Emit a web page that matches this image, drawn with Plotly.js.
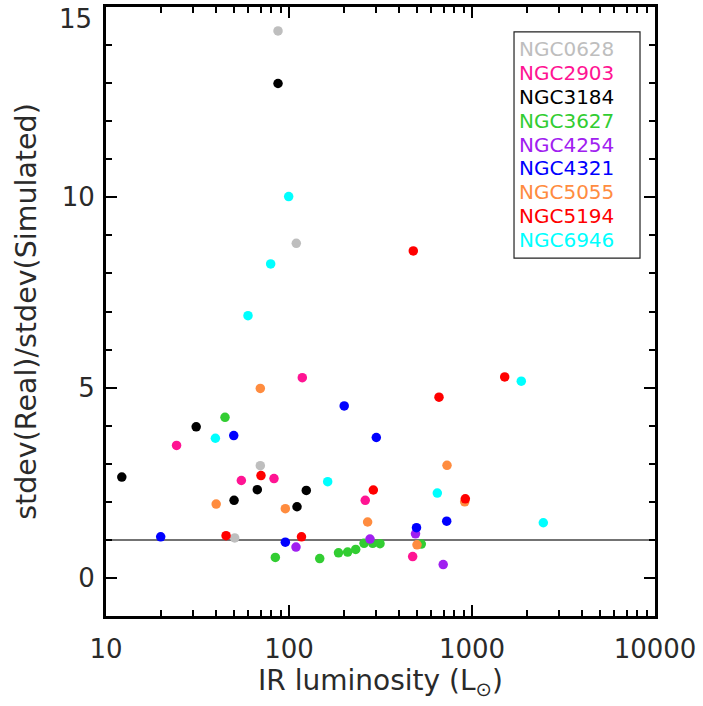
<!DOCTYPE html>
<html>
<head>
<meta charset="utf-8">
<script src="https://cdn.plot.ly/plotly-3.0.1.min.js"></script>
<style>html,body{margin:0;padding:0;background:#fff;}#chart{width:703px;height:706px;}</style>
</head>
<body>
<div id="chart"></div>
<script>
// Galaxy names and marker colours
const galaxies = ["NGC0628","NGC2903","NGC3184","NGC3627","NGC4254","NGC4321","NGC5055","NGC5194","NGC6946"];
const colors = ["#bebebe","#ff1493","#000000","#32cd32","#a020f0","#0000ff","#ff8c3f","#ff0000","#00ffff"];

// IR luminosity (L_sun) and stdev ratio per galaxy
const ngc0628_x = [50.5, 69.7, 87.1, 109.6];
const ngc0628_y = [1.05, 2.95, 14.37, 8.79];
const ngc2903_x = [24.3, 54.9, 82.8, 118.2, 261, 474];
const ngc2903_y = [3.48, 2.56, 2.61, 5.26, 2.04, 0.56];
const ngc3184_x = [12.2, 31.1, 50.1, 67.1, 87.1, 110.6, 124.3];
const ngc3184_y = [2.65, 3.97, 2.04, 2.32, 12.99, 1.87, 2.30];
const ngc3627_x = [44.7, 84.2, 147.2, 186.4, 209.1, 231.5, 257, 286.7, 314.3, 528.4];
const ngc3627_y = [4.22, 0.54, 0.51, 0.66, 0.68, 0.75, 0.91, 0.91, 0.90, 0.89];
const ngc4254_x = [109.2, 277.1, 491.2, 696];
const ngc4254_y = [0.81, 1.02, 1.16, 0.35];
const ngc4321_x = [19.9, 49.9, 95.5, 200.3, 300, 497.4, 727.4];
const ngc4321_y = [1.08, 3.74, 0.94, 4.52, 3.69, 1.32, 1.49];
const ngc5055_x = [40.0, 69.7, 95.5, 268.9, 500.6, 730.2, 912.5];
const ngc5055_y = [1.94, 4.98, 1.82, 1.47, 0.87, 2.96, 2.00];
const ngc5194_x = [45.3, 70.3, 117.0, 288.9, 477.8, 660.2, 919.4, 1509];
const ngc5194_y = [1.11, 2.69, 1.08, 2.31, 8.59, 4.75, 2.08, 5.28];
const ngc6946_x = [39.6, 59.7, 79.4, 99.6, 162.7, 646.3, 1859, 2453];
const ngc6946_y = [3.67, 6.89, 8.25, 10.02, 2.53, 2.23, 5.17, 1.45];

const xs = [ngc0628_x, ngc2903_x, ngc3184_x, ngc3627_x, ngc4254_x, ngc4321_x, ngc5055_x, ngc5194_x, ngc6946_x];
const ys = [ngc0628_y, ngc2903_y, ngc3184_y, ngc3627_y, ngc4254_y, ngc4321_y, ngc5055_y, ngc5194_y, ngc6946_y];

const xTickVals = [10, 100, 1000, 10000];
const xTickText = ["10", "100", "1000", "10000"];
const yTickVals = [0, 5, 10, 15];
const yTickText = ["0", "5", "10", ""];   // top label "15" is drawn below, kept inside the figure
const yTopLabel = "15";
const refLine = 1;

const FONT = "DejaVu Sans, sans-serif";
const TXT = "#2a2a2a";

const traces = galaxies.map((g, i) => ({
  type: "scatter", mode: "markers", name: g,
  x: xs[i], y: ys[i],
  marker: {color: colors[i], size: 9.5, line: {width: 0}},
  showlegend: false, cliponaxis: false
}));

// Text-only legend inside a framed box (paper coordinates of the plot area)
const legX = 0.7486, legTop = 0.931, legStep = 0.0392;
const legendAnns = galaxies.map((g, i) => ({
  xref: "paper", yref: "paper", x: legX, y: legTop - i * legStep,
  xanchor: "left", yanchor: "middle", text: g, showarrow: false,
  font: {family: FONT, size: 20, color: colors[i]}
}));

const topLabelAnn = {
  xref: "paper", yref: "paper", x: -0.0215, y: 0.981,
  xanchor: "right", yanchor: "middle", text: yTopLabel, showarrow: false,
  font: {family: FONT, size: 26, color: TXT}
};

const layout = {
  width: 703, height: 706,
  margin: {l: 106, r: 48, t: 7, b: 90},
  paper_bgcolor: "#fff", plot_bgcolor: "#fff",
  font: {family: FONT, color: TXT, size: 26},
  showlegend: false,
  xaxis: {
    type: "log", range: [1, 4],
    tickvals: xTickVals, ticktext: xTickText,
    ticks: "inside", ticklen: 11, tickwidth: 2, tickcolor: "#000",
    minor: {ticks: "inside", ticklen: 6, tickwidth: 2, tickcolor: "#000", dtick: "D1", showgrid: false},
    showline: true, linewidth: 3, linecolor: "#000", mirror: "allticks",
    showgrid: false, zeroline: false,
    tickfont: {family: FONT, size: 26, color: TXT},
    ticklabelstandoff: 8,
    title: {text: "IR luminosity (L<sub>\u2299</sub>)", font: {family: FONT, size: 28, color: TXT}, standoff: 6}
  },
  yaxis: {
    range: [-1, 15],
    tickvals: yTickVals, ticktext: yTickText,
    ticks: "inside", ticklen: 11, tickwidth: 2, tickcolor: "#000",
    minor: {ticks: "inside", ticklen: 6, tickwidth: 2, tickcolor: "#000", dtick: 1, tick0: 0, showgrid: false},
    showline: true, linewidth: 3, linecolor: "#000", mirror: "allticks",
    showgrid: false, zeroline: false,
    tickfont: {family: FONT, size: 26, color: TXT},
    ticklabelstandoff: 3,
    title: {text: "stdev(Real)/stdev(Simulated)", font: {family: FONT, size: 28.5, color: TXT}, standoff: 17}
  },
  shapes: [
    {type: "line", xref: "paper", yref: "y", x0: 0, x1: 1, y0: refLine, y1: refLine,
     line: {color: "#444", width: 1.5}, layer: "below"},
    {type: "rect", xref: "paper", yref: "paper", x0: 0.7432, x1: 0.9727, y0: 0.5878, y1: 0.959,
     line: {color: "#222", width: 1.2}, fillcolor: "rgba(0,0,0,0)", layer: "above"}
  ],
  annotations: legendAnns.concat([topLabelAnn])
};

Plotly.newPlot("chart", traces, layout, {displayModeBar: false, staticPlot: true});
</script>
</body>
</html>
